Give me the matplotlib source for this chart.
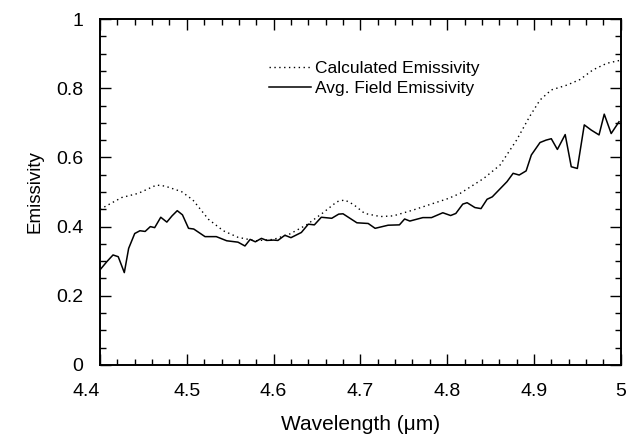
import matplotlib.pyplot as plt
from matplotlib.ticker import MultipleLocator

plt.rcParams['font.family'] = ['Liberation Sans', 'DejaVu Sans']

# calculated emissivity (dotted curve)
calc_wl = [4.400, 4.425, 4.444, 4.465, 4.475, 4.494, 4.507, 4.525, 4.542, 4.559,
           4.579, 4.600, 4.619, 4.638, 4.657, 4.673, 4.682, 4.692, 4.705, 4.723,
           4.738, 4.761, 4.784, 4.801, 4.815, 4.842, 4.861, 4.880, 4.895, 4.907,
           4.920, 4.938, 4.953, 4.968, 4.984, 5.000]
calc_em = [0.450, 0.484, 0.496, 0.520, 0.517, 0.501, 0.477, 0.421, 0.388, 0.369,
           0.359, 0.363, 0.379, 0.405, 0.440, 0.472, 0.477, 0.464, 0.438, 0.429,
           0.431, 0.448, 0.467, 0.481, 0.496, 0.539, 0.578, 0.650, 0.718, 0.766,
           0.795, 0.809, 0.825, 0.853, 0.872, 0.881]

# averaged field emissivity (solid curve)
field_wl = [4.400, 4.408, 4.415, 4.421, 4.428, 4.433, 4.440, 4.446, 4.452, 4.458,
            4.463, 4.470, 4.477, 4.483, 4.489, 4.495, 4.502, 4.508, 4.521, 4.534,
            4.546, 4.559, 4.567, 4.573, 4.579, 4.586, 4.592, 4.600, 4.605, 4.613,
            4.620, 4.632, 4.640, 4.647, 4.655, 4.667, 4.675, 4.680, 4.696, 4.709,
            4.717, 4.732, 4.745, 4.751, 4.757, 4.772, 4.782, 4.795, 4.804, 4.810,
            4.818, 4.823, 4.832, 4.839, 4.846, 4.852, 4.869, 4.876, 4.883, 4.891,
            4.897, 4.907, 4.914, 4.920, 4.927, 4.936, 4.943, 4.950, 4.958, 4.966,
            4.975, 4.981, 4.989, 4.998]
field_em = [0.275, 0.299, 0.318, 0.313, 0.267, 0.337, 0.380, 0.388, 0.386, 0.400,
            0.397, 0.427, 0.413, 0.431, 0.446, 0.434, 0.395, 0.393, 0.371, 0.371,
            0.359, 0.355, 0.344, 0.363, 0.356, 0.366, 0.360, 0.361, 0.360, 0.375,
            0.368, 0.383, 0.407, 0.405, 0.427, 0.424, 0.436, 0.437, 0.411, 0.409,
            0.395, 0.404, 0.405, 0.422, 0.416, 0.426, 0.426, 0.440, 0.432, 0.438,
            0.465, 0.469, 0.455, 0.452, 0.479, 0.486, 0.530, 0.554, 0.549, 0.561,
            0.607, 0.643, 0.650, 0.654, 0.623, 0.666, 0.573, 0.568, 0.694, 0.679,
            0.665, 0.725, 0.669, 0.703]

xticks = [4.4, 4.5, 4.6, 4.7, 4.8, 4.9, 5.0]
xticklabels = ['4.4', '4.5', '4.6', '4.7', '4.8', '4.9', '5']
yticks = [0, 0.2, 0.4, 0.6, 0.8, 1.0]
yticklabels = ['0', '0.2', '0.4', '0.6', '0.8', '1']

fig = plt.figure(figsize=(6.27, 4.37), dpi=100)
ax = fig.add_axes([0.1595, 0.1648, 0.8305, 0.7917])

ax.plot(calc_wl, calc_em, color='black', lw=1.0, linestyle=(0, (1, 2.5)),
        label='Calculated Emissivity')
ax.plot(field_wl, field_em, color='black', lw=1.1, label='Avg. Field Emissivity')

ax.set_xlim(4.4, 5.0)
ax.set_ylim(0, 1)
ax.set_xticks(xticks)
ax.set_xticklabels(xticklabels, fontsize=14)
ax.set_yticks(yticks)
ax.set_yticklabels(yticklabels, fontsize=14)
ax.xaxis.set_minor_locator(MultipleLocator(0.02))
ax.yaxis.set_minor_locator(MultipleLocator(0.05))
ax.tick_params(which='both', direction='in', top=True, right=True, width=1)
ax.tick_params(which='major', length=8)
ax.tick_params(which='minor', length=4)
ax.tick_params(axis='x', pad=13)
ax.tick_params(axis='y', pad=12)
ax.get_xticklabels()[0].set_horizontalalignment('right')
for s in ax.spines.values():
    s.set_linewidth(1.4)

ax.set_xlabel('Wavelength (\u03bcm)', fontsize=15)
ax.set_ylabel('Emissivity', fontsize=13.5)
ax.xaxis.set_label_coords(0.5, -0.145)
ax.yaxis.set_label_coords(-0.109, 0.5)

ax.legend(loc='upper left', bbox_to_anchor=(0.325, 0.879), frameon=False,
          fontsize=12.5, handlelength=2.4, handletextpad=0.25, labelspacing=0.3,
          borderpad=0, borderaxespad=0)

plt.savefig('out.png', dpi=100)
